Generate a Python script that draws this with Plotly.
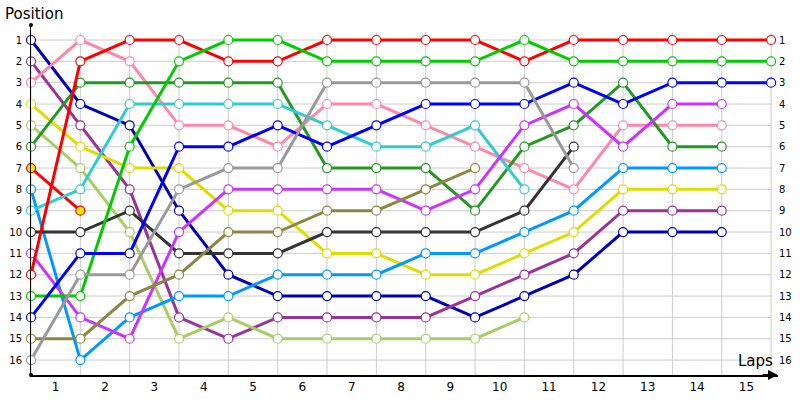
import plotly.graph_objects as go

# positions per lap (lap 0 = grid), one list per car
laps_count = 15
positions = list(range(1, 17))
lap_labels = [str(i) for i in range(1, 16)]

red = [12, 2, 1, 1, 2, 2, 1, 1, 1, 1, 2, 1, 1, 1, 1, 1]
green = [13, 13, 6, 2, 1, 1, 2, 2, 2, 2, 1, 2, 2, 2, 2, 2]
blue = [14, 11, 11, 6, 6, 5, 6, 5, 4, 4, 4, 3, 4, 3, 3, 3]
navy = [1, 4, 5, 9, 12, 13, 13, 13, 13, 14, 13, 12, 10, 10, 10]
pink = [3, 1, 2, 5, 5, 6, 4, 4, 5, 6, 7, 8, 5, 5, 5]
dark_green = [6, 3, 3, 3, 3, 3, 7, 7, 7, 9, 6, 5, 3, 6, 6]
cyan = [9, 8, 4, 4, 4, 4, 5, 6, 6, 5, 8]
grey = [16, 12, 12, 8, 7, 7, 3, 3, 3, 3, 3, 7]
magenta = [11, 14, 15, 10, 8, 8, 8, 8, 9, 8, 5, 4, 6, 4, 4]
yellow = [4, 6, 7, 7, 9, 9, 11, 11, 12, 12, 11, 10, 8, 8, 8]
light_olive = [5, 7, 10, 15, 14, 15, 15, 15, 15, 15, 14]
purple = [2, 5, 8, 14, 15, 14, 14, 14, 14, 13, 12, 11, 9, 9, 9]
black = [10, 10, 9, 11, 11, 11, 10, 10, 10, 10, 9, 6]
olive = [15, 15, 13, 12, 10, 10, 9, 9, 8, 7]
sky = [8, 16, 14, 13, 13, 12, 12, 12, 11, 11, 10, 9, 7, 7, 7]
red_yellow = [7, 9]

cars = [
    (navy, "#0000b4", "white"),
    (purple, "#993399", "white"),
    (pink, "#ff88aa", "white"),
    (yellow, "#dddd00", "white"),
    (light_olive, "#aacc66", "white"),
    (dark_green, "#229922", "white"),
    (red_yellow, "#ff0000", "#ffee00"),
    (sky, "#0099ff", "white"),
    (cyan, "#33cccc", "white"),
    (black, "#333333", "white"),
    (magenta, "#cc33ff", "white"),
    (red, "#ff0000", "white"),
    (green, "#00cc00", "white"),
    (blue, "#0000ff", "white"),
    (olive, "#888844", "white"),
    (grey, "#999999", "white"),
]

fig = go.Figure()

# grid
shapes = []
for k in range(0, laps_count + 1):
    shapes.append(dict(type="line", xref="x", yref="y", x0=k, x1=k, y0=0.65, y1=16.7,
                       line=dict(color="#cccccc", width=1), layer="below"))
for p in positions:
    shapes.append(dict(type="line", xref="x", yref="y", x0=0, x1=laps_count, y0=p, y1=p,
                       line=dict(color="#cccccc", width=1), layer="below"))
# little dots at the ends of the y axis
for yv in (0, 1):
    shapes.append(dict(type="circle", xref="paper", yref="paper", xsizemode="pixel",
                       ysizemode="pixel", xanchor=0, yanchor=yv, x0=-2, x1=2, y0=-2, y1=2,
                       fillcolor="black", line=dict(width=0)))

for vals, col, fill in cars:
    fig.add_trace(go.Scatter(
        x=list(range(len(vals))), y=vals, mode="lines+markers",
        line=dict(color=col, width=3),
        marker=dict(size=9, color=fill, line=dict(color=col, width=1.2)),
        showlegend=False, hoverinfo="skip", cliponaxis=False))

# invisible trace so the right-hand position axis gets drawn
fig.add_trace(go.Scatter(x=[0], y=[1], yaxis="y2", mode="markers",
                         marker=dict(opacity=0), showlegend=False, hoverinfo="skip"))

yrange = [16.70, 0.297]
fig.update_layout(
    width=800, height=400,
    margin=dict(l=31, r=22, t=25, b=25),
    plot_bgcolor="white", paper_bgcolor="white",
    shapes=shapes,
    xaxis=dict(range=[0, 15.14], showgrid=False, zeroline=False, automargin=False,
               tickvals=[i + 0.5 for i in range(laps_count)], ticktext=lap_labels,
               ticks="", tickfont=dict(family="DejaVu Sans", size=12, color="black"),
               showline=True, linecolor="black", linewidth=2),
    yaxis=dict(range=yrange, showgrid=False, zeroline=False, automargin=False,
               tickvals=positions, ticktext=[str(p) for p in positions],
               ticks="", ticklabelstandoff=6,
               tickfont=dict(family="DejaVu Sans", size=10, color="black"),
               showline=True, linecolor="black", linewidth=1),
    yaxis2=dict(range=yrange, overlaying="y", side="right", showgrid=False,
                zeroline=False, automargin=False, tickvals=positions,
                ticktext=[str(p) for p in positions], ticks="",
                tickfont=dict(family="DejaVu Sans", size=10, color="black")),
    annotations=[
        dict(text="Position", xref="paper", yref="paper", x=-31 / 747, y=1 + 25 / 350,
             xanchor="left", yanchor="top", xshift=3, yshift=-3, showarrow=False,
             font=dict(family="DejaVu Sans", size=15, color="black")),
        dict(text="Laps", xref="paper", yref="paper", x=1, y=0, xanchor="right",
             yanchor="bottom", yshift=3, xshift=-3, showarrow=False,
             font=dict(family="DejaVu Sans", size=15, color="black")),
        dict(x=15.14, y=16.70, ax=14.8, ay=16.70, xref="x", yref="y", axref="x", ayref="y",
             showarrow=True, arrowhead=2, arrowsize=1, arrowwidth=2, arrowcolor="black", text=""),
    ],
)

# the default page has an 8px body margin; drop it so the figure sits at 0,0
fig.write_html("out.html", config={"displayModeBar": False},
               post_script="document.body.style.margin='0';")
